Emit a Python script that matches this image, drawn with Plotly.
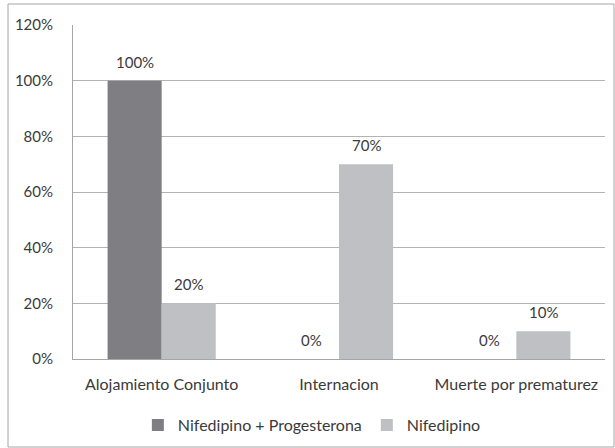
import plotly.graph_objects as go

categories = ["Alojamiento Conjunto", "Internacion", "Muerte por prematurez"]
combo_values = [100, 0, 0]
nife_values = [20, 70, 10]
series_names = ["Nifedipino + Progesterona", "Nifedipino"]
y_ticks = [0, 20, 40, 60, 80, 100, 120]

text_color = "#3a3a3a"
font_family = "Lato, Open Sans, sans-serif"
num_size = 15
cat_size = 16

fig = go.Figure()
fig.add_bar(
    x=categories, y=combo_values, name=series_names[0], offsetgroup="a",
    marker=dict(color="#7f7f83", line=dict(width=0)),
)
fig.add_bar(
    x=categories, y=nife_values, name=series_names[1], offsetgroup="b",
    marker=dict(color="#bfc0c4", line=dict(width=0)),
)

# value labels above each bar, offset by half a bar slot to either side
annotations = []
for vals, sign in ((combo_values, -1), (nife_values, 1)):
    for i, v in enumerate(vals):
        annotations.append(dict(
            x=i + sign * 0.1525, y=v, xref="x", yref="y",
            text=f"{v}%", showarrow=False, yshift=19,
            font=dict(size=num_size, color=text_color),
        ))

L, R, T, B = 73, 10, 25, 89
W, H = 615 - L - R, 448 - T - B

fig.update_layout(
    width=615, height=448,
    margin=dict(l=L, r=R, t=T, b=B, autoexpand=False),
    paper_bgcolor="white", plot_bgcolor="white",
    barmode="group", bargap=0.39, bargroupgap=0,
    font=dict(family=font_family, size=num_size, color=text_color),
    showlegend=True,
    legend=dict(
        orientation="h", x=0.449, xanchor="center", y=-(425 - 359) / H,
        yanchor="middle",
        font=dict(size=cat_size, color=text_color), itemwidth=30,
        traceorder="normal",
    ),
    xaxis=dict(
        showline=True, linecolor="#a6a6a6", linewidth=1, ticks="",
        tickfont=dict(size=cat_size, color=text_color), ticklabelstandoff=11,
        automargin=False,
    ),
    yaxis=dict(
        range=[0, 120], tickvals=y_ticks, ticktext=[f"{v}%" for v in y_ticks],
        showgrid=True, gridcolor="#b3b3b3", gridwidth=1,
        showline=True, linecolor="#a6a6a6", linewidth=1,
        zeroline=False, ticks="", ticklabelstandoff=16,
        tickfont=dict(size=num_size, color=text_color), automargin=False,
    ),
    annotations=annotations,
    shapes=[dict(
        type="rect", xref="paper", yref="paper",
        x0=(8 - L) / W, x1=(614 - L) / W,
        y0=(359 - 447) / H, y1=1 + (T - 4) / H,
        line=dict(color="#a6a6a6", width=1), fillcolor="rgba(0,0,0,0)",
        layer="below",
    )],
)

fig.write_html("out.html")
